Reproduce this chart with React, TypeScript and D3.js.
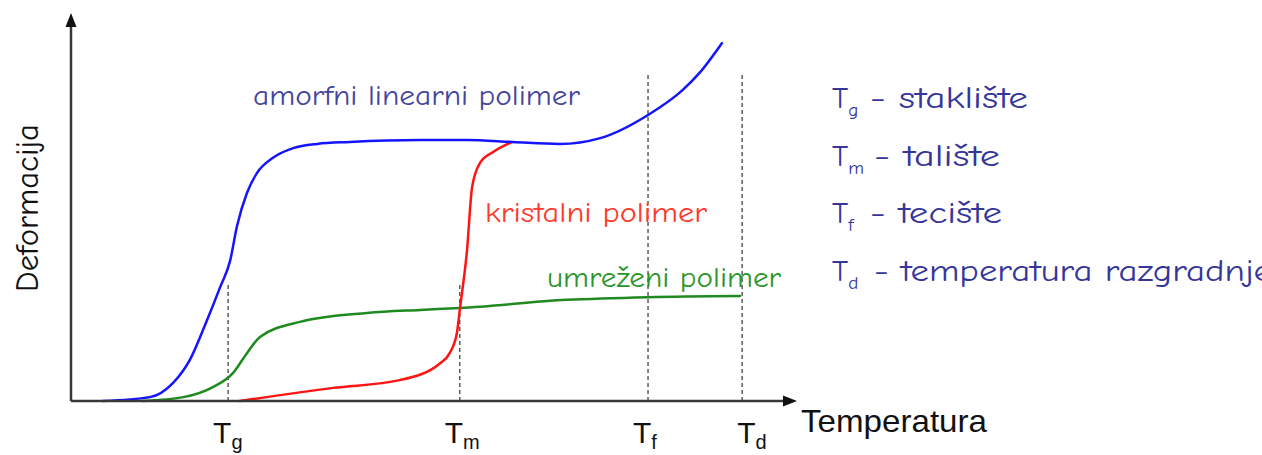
import { useEffect, useRef } from 'react'
import * as d3 from 'd3'

// temperature (0-100) vs deformation (0-100)
const amorphous: [number, number][] = [
  [4.4, 0], [10.9, 1.0], [14.1, 4.7], [16.4, 10.6], [18.8, 21.0], [20.6, 29.5],
  [22.0, 36.5], [22.9, 45.1], [24.3, 53.9], [25.7, 59.1], [27.9, 63.0],
  [30.7, 65.5], [34.0, 66.6], [38.5, 67.1], [48.2, 67.6], [54.7, 67.6],
  [61.0, 67.1], [67.5, 66.6], [73.1, 68.1], [79.7, 74.1], [84.5, 80.6],
  [86.9, 85.2], [89.9, 92.7],
]
const crystalline: [number, number][] = [
  [23.3, 0], [36.2, 3.4], [45.4, 5.4], [51.0, 9.8], [52.3, 12.4], [53.3, 17.6],
  [53.7, 23.6], [54.7, 39.1], [55.4, 55.4], [56.5, 61.7], [58.3, 64.5], [60.9, 67.1],
]
const crosslinked: [number, number][] = [
  [9.9, 0], [15.5, 1.0], [19.6, 3.6], [22.4, 7.3], [24.3, 12.4], [26.1, 16.6],
  [31.6, 20.5], [40.9, 22.8], [48.2, 23.6], [53.7, 24.1], [68.5, 26.2],
  [79.7, 26.9], [92.4, 27.2],
]

const transitionSubs = ['g', 'm', 'f', 'd']
const transitionTemps = [21.7, 53.7, 79.7, 92.7]
const guideTops = [30.1, 30.1, 85.2, 85.2]
const legendNames = ['staklište', 'talište', 'tecište', 'temperatura razgradnje']

const handFont = '"Comic Sans MS", "Comic Neue", "DejaVu Sans", sans-serif'
const plainFont = '"Liberation Sans", Arial, sans-serif'

export default function App() {
  const svgRef = useRef<SVGSVGElement>(null)

  useEffect(() => {
    if (!svgRef.current) return
    const svg = d3.select(svgRef.current)
    svg.selectAll('*').remove()

    const x = d3.scaleLinear().domain([0, 100]).range([71, 795])
    const y = d3.scaleLinear().domain([0, 100]).range([401, 15])
    const axisColor = '#383838'

    // dashed guides
    transitionTemps.forEach((t, i) => {
      svg.append('line')
        .attr('x1', x(t)).attr('x2', x(t))
        .attr('y1', y(0)).attr('y2', y(guideTops[i]))
        .attr('stroke', '#444')
        .attr('stroke-width', 1.3)
        .attr('stroke-dasharray', '4,3')
    })

    // curves
    const line = d3.line<[number, number]>()
      .x(d => x(d[0]))
      .y(d => y(d[1]))
      .curve(d3.curveMonotoneX)

    const series: [[number, number][], string][] = [
      [crosslinked, '#1f8a1f'],
      [crystalline, '#ff1414'],
      [amorphous, '#1414ff'],
    ]
    series.forEach(([pts, color]) => {
      svg.append('path')
        .datum(pts)
        .attr('fill', 'none')
        .attr('stroke', color)
        .attr('stroke-width', 2.5)
        .attr('stroke-linecap', 'round')
        .attr('d', line)
    })

    // axes with arrow heads
    svg.append('line')
      .attr('x1', x(0)).attr('x2', x(100) - 8)
      .attr('y1', y(0)).attr('y2', y(0))
      .attr('stroke', axisColor).attr('stroke-width', 2.5)
    svg.append('line')
      .attr('x1', x(0)).attr('x2', x(0))
      .attr('y1', y(0)).attr('y2', y(100) + 8)
      .attr('stroke', axisColor).attr('stroke-width', 2.5)
    svg.append('path')
      .attr('d', `M${x(100) + 2},${y(0)} L${x(100) - 12},${y(0) - 5.5} L${x(100) - 12},${y(0) + 5.5} Z`)
      .attr('fill', '#111')
    svg.append('path')
      .attr('d', `M${x(0)},${y(100) - 2} L${x(0) - 5.5},${y(100) + 12} L${x(0) + 5.5},${y(100) + 12} Z`)
      .attr('fill', '#111')

    // tick labels T_g, T_m ...
    transitionTemps.forEach((t, i) => {
      const nudge = transitionSubs[i] === 'd' ? -5 : -15
      const txt = svg.append('text')
        .attr('x', x(t) + nudge)
        .attr('y', 443)
        .attr('font-family', plainFont)
        .attr('font-size', 30)
        .attr('fill', '#111')
      txt.append('tspan').text('T')
      txt.append('tspan')
        .attr('font-size', 20)
        .attr('dy', 6)
        .text(transitionSubs[i])
    })

    svg.append('text')
      .attr('x', 801)
      .attr('y', 432)
      .attr('font-family', plainFont)
      .attr('font-size', 32)
      .attr('fill', '#111')
      .attr('textLength', 186)
      .attr('lengthAdjust', 'spacingAndGlyphs')
      .text('Temperatura')

    svg.append('text')
      .attr('transform', 'translate(38,208) rotate(-90)')
      .attr('text-anchor', 'middle')
      .attr('font-family', handFont)
      .attr('font-size', 33)
      .attr('fill', '#111')
      .attr('textLength', 168)
      .attr('lengthAdjust', 'spacingAndGlyphs')
      .text('Deformacija')

    // curve labels
    const curveLabels: [string, number, number, number, string][] = [
      ['amorfni linearni polimer', 253, 105, 327, '#45459c'],
      ['kristalni polimer', 485, 222, 222, '#ff3a2a'],
      ['umreženi polimer', 547, 287, 234, '#2a962a'],
    ]
    curveLabels.forEach(([label, lx, ly, len, color]) => {
      svg.append('text')
        .attr('x', lx)
        .attr('y', ly)
        .attr('font-family', handFont)
        .attr('font-size', 29)
        .attr('fill', color)
        .attr('textLength', len)
        .attr('lengthAdjust', 'spacingAndGlyphs')
        .text(label)
    })

    // legend
    const legendEnds = [1028, 1000, 1002, 1272]
    legendNames.forEach((name, i) => {
      const ly = 108 + i * 57.5
      const txt = svg.append('text')
        .attr('x', 832)
        .attr('y', ly)
        .attr('font-family', handFont)
        .attr('font-size', 31)
        .attr('fill', '#35359a')
      txt.append('tspan').text('T')
      txt.append('tspan')
        .attr('font-size', 19)
        .attr('dy', 8)
        .text(transitionSubs[i])
      const startX = i === 0 || i === 2 ? 870 : 874
      svg.append('text')
        .attr('x', startX)
        .attr('y', ly)
        .attr('font-family', handFont)
        .attr('font-size', 31)
        .attr('fill', '#35359a')
        .attr('textLength', legendEnds[i] - startX)
        .attr('lengthAdjust', 'spacingAndGlyphs')
        .text('- ' + name)
    })
  }, [])

  return (
    <svg
      ref={svgRef}
      width={1262}
      height={455}
      style={{ position: 'absolute', left: 0, top: 0, background: '#fff' }}
    />
  )
}
